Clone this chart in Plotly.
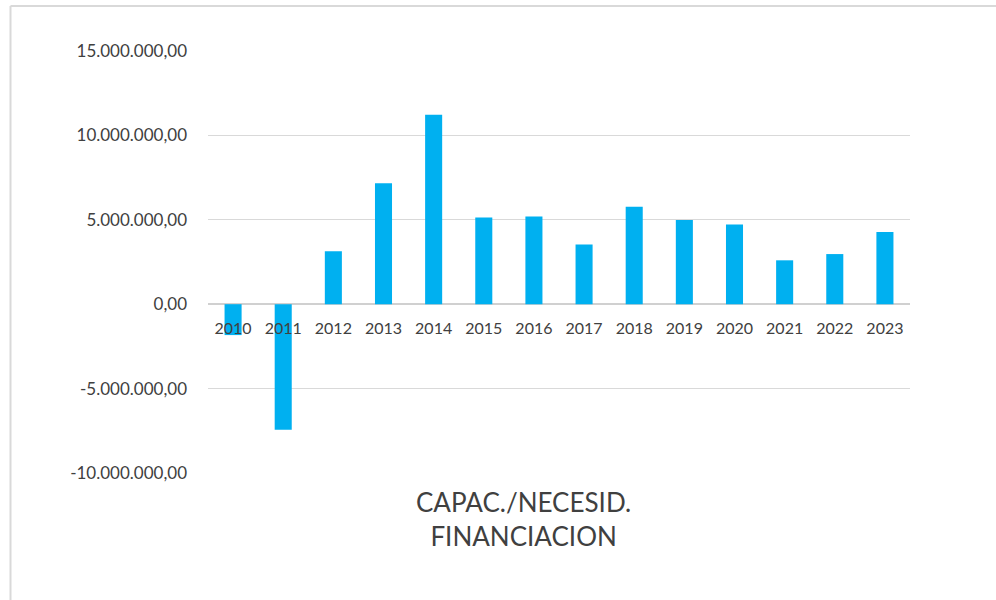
import plotly.graph_objects as go

years = ["2010", "2011", "2012", "2013", "2014", "2015", "2016",
         "2017", "2018", "2019", "2020", "2021", "2022", "2023"]
values = [-1830000, -7440000, 3130000, 7160000, 11220000, 5140000, 5200000,
          3540000, 5780000, 4990000, 4720000, 2600000, 2970000, 4270000]

y_tickvals = [-10000000, -5000000, 0, 5000000, 10000000, 15000000]
y_ticktext = ["-10.000.000,00", "-5.000.000,00", "0,00",
              "5.000.000,00", "10.000.000,00", "15.000.000,00"]

title_text = "CAPAC./NECESID.<br>FINANCIACION"

fig = go.Figure()
fig.add_trace(go.Bar(
    x=years, y=values, marker=dict(color="#00B0F0", line=dict(width=0)),
    hoverinfo="x+y",
))

L, R, T, B = 208, 86, 51, 127
W, H = 996, 600
pw, ph = W - L - R, H - T - B

def px_x(x):
    return (x - L) / pw

def px_y(y):
    return (H - B - y) / ph

fig.update_layout(
    width=W, height=H,
    margin=dict(l=L, r=R, t=T, b=B, pad=0),
    paper_bgcolor="white", plot_bgcolor="white",
    font=dict(family="Lato, Carlito, Calibri, sans-serif", color="#404040"),
    bargap=0.66,
    showlegend=False,
    xaxis=dict(
        type="category", anchor="free", position=0.4,
        showgrid=False, showline=False, ticks="",
        tickfont=dict(size=16, color="#404040"),
        ticklabelstandoff=13,
        fixedrange=True,
    ),
    yaxis=dict(
        range=[-10000000, 15000000], domain=[0, 1],
        tickvals=y_tickvals, ticktext=y_ticktext,
        showgrid=True, gridcolor="#d9d9d9", gridwidth=1,
        zeroline=True, zerolinecolor="#d0d0d0", zerolinewidth=2,
        showline=False, ticks="",
        tickfont=dict(size=17, color="#404040"),
        ticklabelstandoff=20,
        fixedrange=True,
    ),
    shapes=[
        dict(type="line", xref="paper", yref="paper",
             x0=px_x(10.5), x1=px_x(10.5), y0=px_y(6), y1=px_y(600),
             line=dict(color="#d9d9d9", width=2)),
        dict(type="line", xref="paper", yref="paper",
             x0=px_x(10.5), x1=px_x(996), y0=px_y(6), y1=px_y(6),
             line=dict(color="#d9d9d9", width=2)),
    ],
    annotations=[
        dict(text=title_text, xref="paper", yref="paper",
             x=px_x(523), y=px_y(519), xanchor="center", yanchor="middle",
             showarrow=False, align="center",
             font=dict(size=26, color="#404040")),
    ],
)

fig.write_html(
    "out.html",
    config={"displayModeBar": False},
    post_script="document.body.style.margin='0';document.body.style.overflow='hidden';",
)
